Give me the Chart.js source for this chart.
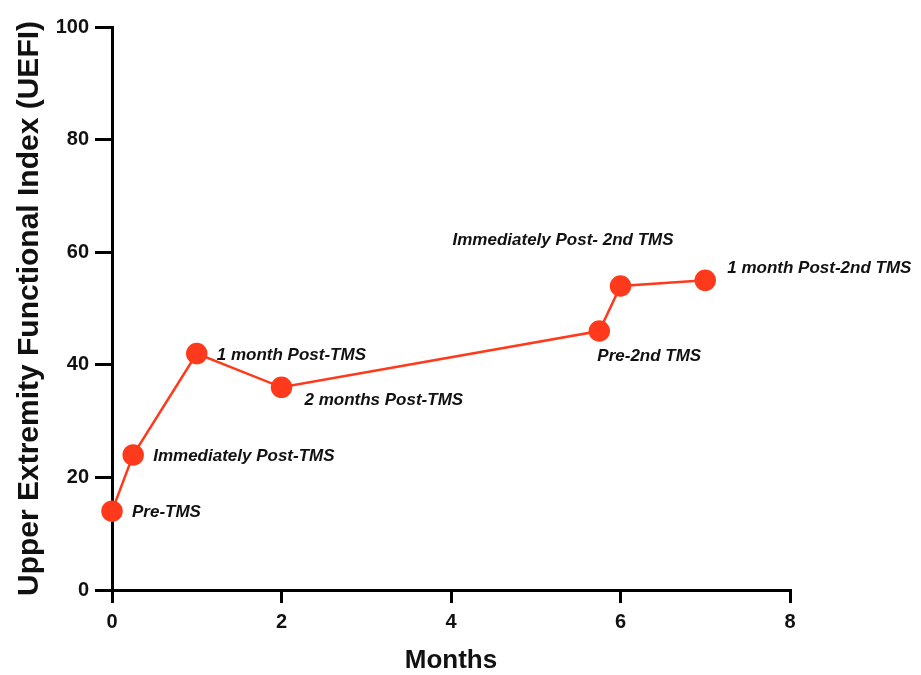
<!DOCTYPE html>
<html>
<head>
<meta charset="utf-8">
<script src="https://cdn.jsdelivr.net/npm/chart.js@4.4.0/dist/chart.umd.min.js"></script>
<style>
  html, body { margin: 0; padding: 0; background: #fff; }
  #wrap { width: 921px; height: 675px; }
</style>
</head>
<body>
<div id="wrap"><canvas id="grafico"></canvas></div>
<script>
// Dados
const meses = [0, 0.25, 1, 2, 5.75, 6, 7];
const uefi = [14, 24, 42, 36, 46, 54, 55];
const rotulos = [
    'Pre-TMS',
    'Immediately Post-TMS',
    '1 month Post-TMS',
    '2 months Post-TMS',
    'Pre-2nd TMS',
    'Immediately Post- 2nd TMS',
    '1 month Post-2nd TMS'
];
const ticksX = [0, 2, 4, 6, 8];
const ticksY = [0, 20, 40, 60, 80, 100];

const vermelho = '#ff3a1c';

// deslocamento de cada rótulo em relação ao ponto (px)
const deslocamentos = [
    [20, 1], [20, 1], [20, 2], [23, 13], [-2, 25], [-168, -46], [22, -12]
];

// Plugin simples para escrever os rótulos ao lado dos pontos
const rotulosPlugin = {
    id: 'rotulosPontos',
    afterDatasetsDraw(chart) {
        const ctx = chart.ctx;
        const meta = chart.getDatasetMeta(0);
        ctx.save();
        ctx.font = 'italic bold 17px "Liberation Sans", Arial, sans-serif';
        ctx.fillStyle = '#111';
        ctx.textAlign = 'left';
        ctx.textBaseline = 'middle';
        meta.data.forEach((pt, i) => {
            const d = deslocamentos[i];
            ctx.fillText(rotulos[i], pt.x + d[0], pt.y + d[1]);
        });
        ctx.restore();
    }
};

function inicializarGrafico() {
    const ctx = document.getElementById('grafico').getContext('2d');
    new Chart(ctx, {
        type: 'scatter',
        data: {
            datasets: [{
                data: meses.map((m, i) => ({ x: m, y: uefi[i] })),
                showLine: true,
                borderColor: vermelho,
                backgroundColor: vermelho,
                borderWidth: 2.5,
                pointRadius: 9.5,
                pointHoverRadius: 9.5,
                clip: false
            }]
        },
        options: {
            responsive: true,
            maintainAspectRatio: false,
            animation: false,
            layout: { padding: { top: 27, right: 131, left: 0, bottom: 0 } },
            plugins: {
                legend: { display: false },
                tooltip: { enabled: false }
            },
            scales: {
                x: {
                    type: 'linear',
                    min: 0,
                    max: 8,
                    afterFit(scale) { scale.height = 85; },
                    afterBuildTicks(scale) { scale.ticks = ticksX.map(v => ({ value: v })); },
                    grid: { drawOnChartArea: false, drawTicks: true, tickLength: 13, color: '#000', lineWidth: 3 },
                    border: { color: '#000', width: 3 },
                    ticks: {
                        color: '#111',
                        padding: 7,
                        font: { family: '"Liberation Sans", Arial, sans-serif', size: 20, weight: 'bold' }
                    },
                    title: {
                        display: true,
                        text: 'Months',
                        color: '#111',
                        padding: { top: 0, bottom: -1 },
                        font: { family: '"Liberation Sans", Arial, sans-serif', size: 26, weight: 'bold' }
                    }
                },
                y: {
                    min: 0,
                    max: 100,
                    afterFit(scale) { scale.width = 112; },
                    afterBuildTicks(scale) { scale.ticks = ticksY.map(v => ({ value: v })); },
                    grid: { drawOnChartArea: false, drawTicks: true, tickLength: 17, color: '#000', lineWidth: 3 },
                    border: { color: '#000', width: 3 },
                    ticks: {
                        color: '#111',
                        padding: 6,
                        font: { family: '"Liberation Sans", Arial, sans-serif', size: 20, weight: 'bold' }
                    },
                    title: {
                        display: true,
                        text: 'Upper Extremity Functional Index (UEFI)',
                        color: '#111',
                        padding: { top: 12, bottom: 0 },
                        font: { family: '"Liberation Sans", Arial, sans-serif', size: 30, weight: 'bold' }
                    }
                }
            }
        },
        plugins: [rotulosPlugin]
    });
}

document.addEventListener('DOMContentLoaded', () => {
    inicializarGrafico();
});
</script>
</body>
</html>
